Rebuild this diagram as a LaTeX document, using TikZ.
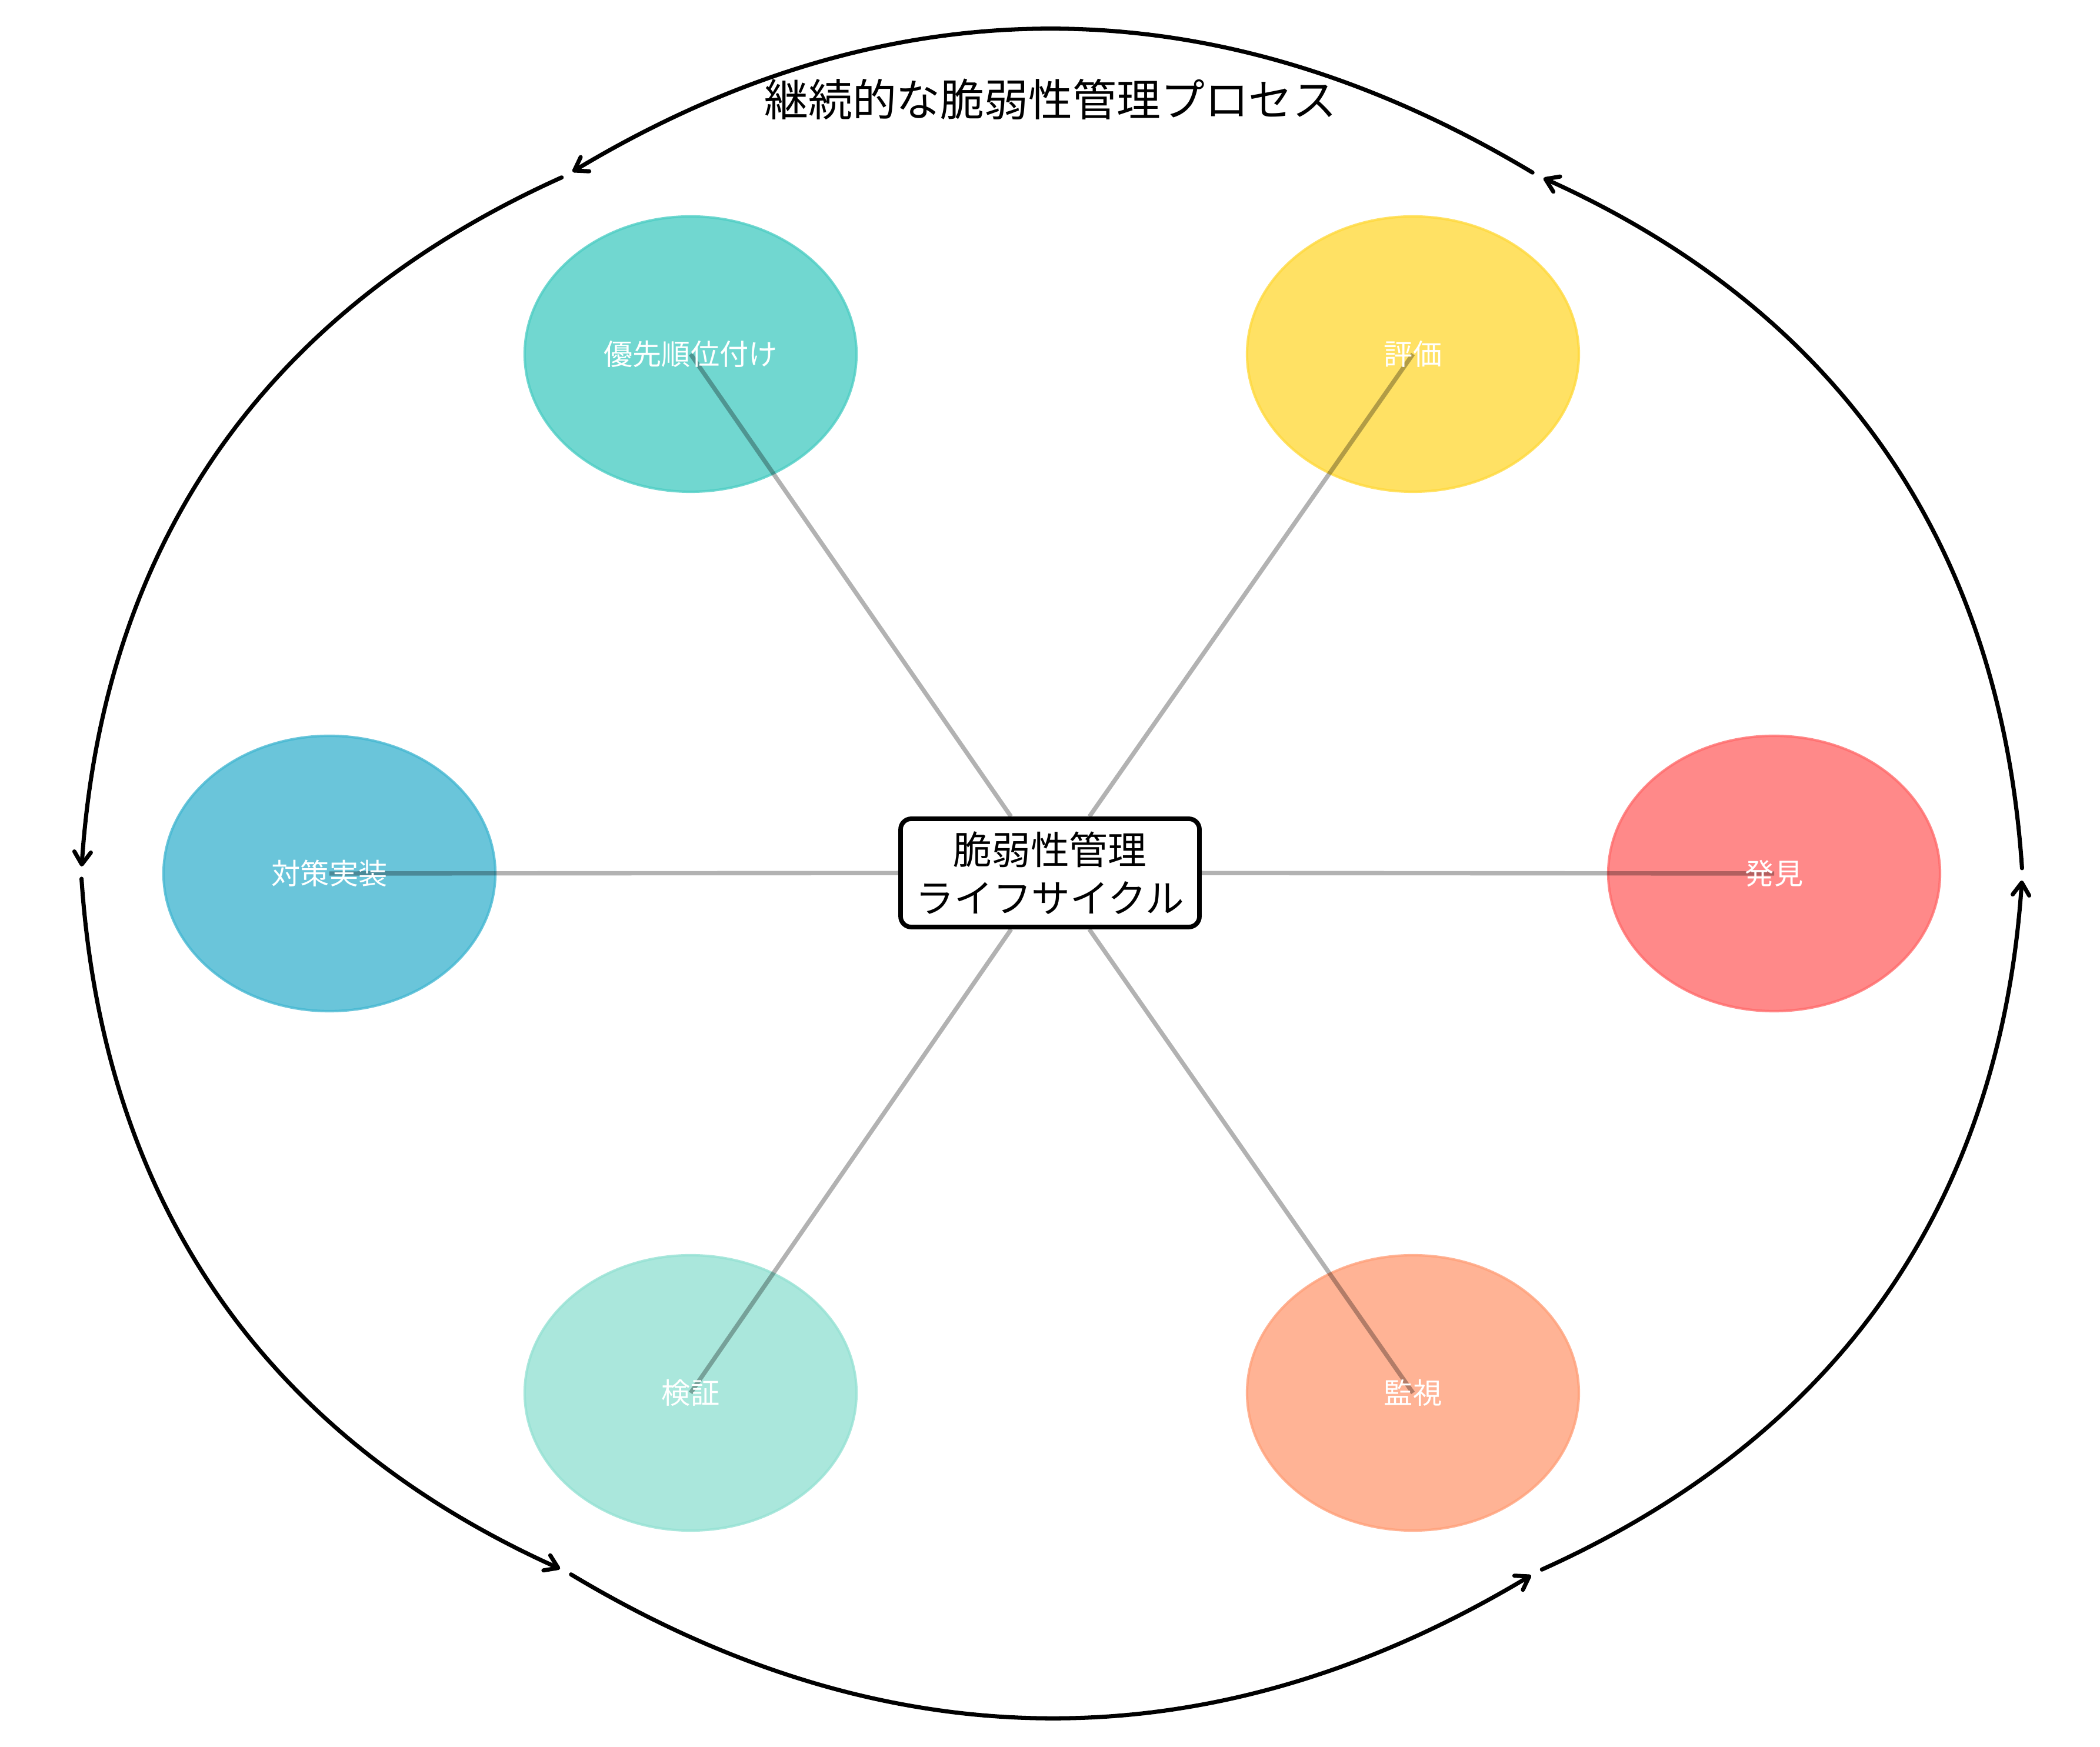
\documentclass[tikz,border=0pt]{standalone}
\usepackage{fontspec}
\setmainfont{Noto Sans CJK JP}
\usepackage{tikz}
\usetikzlibrary{shapes.geometric, arrows.meta, calc}

\definecolor{findred}{HTML}{FF6B6B}
\definecolor{assessyellow}{HTML}{FFD93D}
\definecolor{prioteal}{HTML}{4ECDC4}
\definecolor{fixblue}{HTML}{45B7D1}
\definecolor{checkmint}{HTML}{95E1D3}
\definecolor{watchsalmon}{HTML}{FFA07A}

\begin{document}
\begin{tikzpicture}[line width = 1pt,
                        phase/.style = {ellipse, draw = #1, fill = #1, line width = 1.2pt,
                                        fill opacity = 0.8, draw opacity = 0.8,
                                        minimum width = 5.64cm, minimum height = 4.68cm},
                        phasetext/.style = {text = white, font = \fontsize{14}{17}\selectfont},
                        spoke/.style = {black, opacity = 0.3, line width = 2.1pt},
                        loopline/.style = {black, line width = 2pt, line cap = round,
                                           -{Straight Barb[length = 6pt, width = 8pt, round]},
                                           shorten > = 0.12cm, shorten < = 0.09cm},
                        hubbox/.style = {draw, fill = white, line width = 2.2pt, rounded corners = 0.18cm,
                                         align = center, minimum width = 5.08cm, minimum height = 1.84cm,
                                         font = \fontsize{18.7}{23.5}\selectfont}]
      \useasboundingbox (0, 0) rectangle (35.7, 29.7);

      \node [phase = findred] (find) at (30.16, 14.85){};
      \node [phase = assessyellow] (assess) at (24.02, 23.68){};
      \node [phase = prioteal] (prio) at (11.74, 23.68){};
      \node [phase = fixblue] (fix) at (5.60, 14.85){};
      \node [phase = checkmint] (check) at (11.74, 6.02){};
      \node [phase = watchsalmon] (watch) at (24.02, 6.02){};

      \node [hubbox] (hub) at (17.85, 14.86) {脆弱性管理\\ライフサイクル};

      \draw [spoke] (hub) -- (find.center);
      \draw [spoke] (hub) -- (assess.center);
      \draw [spoke] (hub) -- (prio.center);
      \draw [spoke] (hub) -- (fix.center);
      \draw [spoke] (hub) -- (check.center);
      \draw [spoke] (hub) -- (watch.center);

      \node [phasetext] at (find.center) {発見};
      \node [phasetext] at (assess.center) {評価};
      \node [phasetext] at (prio.center) {優先順位付け};
      \node [phasetext] at (fix.center) {対策実装};
      \node [phasetext] at (check.center) {検証};
      \node [phasetext] at (watch.center) {監視};

      \node [font = \fontsize{21.3}{25}\selectfont] (title) at (17.86, 28.01) {継続的な脆弱性管理プロセス};

      \coordinate (v0) at (34.38, 14.85);
      \coordinate (v1) at (26.13, 26.72);
      \coordinate (v2) at (9.63, 26.72);
      \coordinate (v3) at (1.38, 14.85);
      \coordinate (v4) at (9.63, 2.98);
      \coordinate (v5) at (26.13, 2.98);

      \coordinate (c0) at ($(v0)!0.5!(v1)!0.6!-90:(v1)$);
      \coordinate (c1) at ($(v1)!0.5!(v2)!0.6!-90:(v2)$);
      \coordinate (c2) at ($(v2)!0.5!(v3)!0.6!-90:(v3)$);
      \coordinate (c3) at ($(v3)!0.5!(v4)!0.6!-90:(v4)$);
      \coordinate (c4) at ($(v4)!0.5!(v5)!0.6!-90:(v5)$);
      \coordinate (c5) at ($(v5)!0.5!(v0)!0.6!-90:(v0)$);

      \draw [loopline] (v0) .. controls ($(v0)!2/3!(c0)$) and ($(v1)!2/3!(c0)$) .. (v1);
      \draw [loopline] (v1) .. controls ($(v1)!2/3!(c1)$) and ($(v2)!2/3!(c1)$) .. (v2);
      \draw [loopline] (v2) .. controls ($(v2)!2/3!(c2)$) and ($(v3)!2/3!(c2)$) .. (v3);
      \draw [loopline] (v3) .. controls ($(v3)!2/3!(c3)$) and ($(v4)!2/3!(c3)$) .. (v4);
      \draw [loopline] (v4) .. controls ($(v4)!2/3!(c4)$) and ($(v5)!2/3!(c4)$) .. (v5);
      \draw [loopline] (v5) .. controls ($(v5)!2/3!(c5)$) and ($(v0)!2/3!(c5)$) .. (v0);
\end{tikzpicture}
\end{document}
